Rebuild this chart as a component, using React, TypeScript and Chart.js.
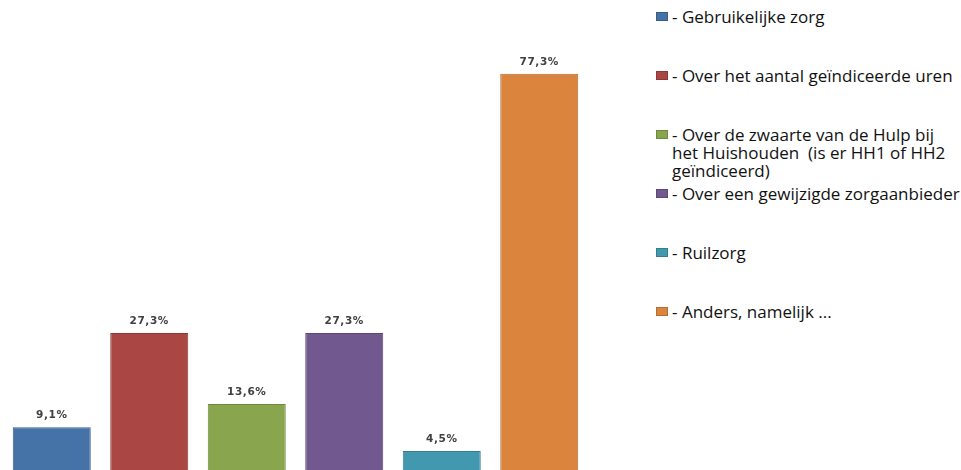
import React, { useEffect, useRef } from "react";
import { Chart, registerables } from "chart.js";

Chart.register(...registerables);

const categories = [
  "- Gebruikelijke zorg",
  "- Over het aantal geïndiceerde uren",
  "- Over de zwaarte van de Hulp bij\nhet Huishouden  (is er HH1 of HH2\ngeïndiceerd)",
  "- Over een gewijzigde zorgaanbieder",
  "- Ruilzorg",
  "- Anders, namelijk ...",
];
const values = [9.1, 27.3, 13.6, 27.3, 4.5, 77.3];
const fillColors = ["#4572A7", "#AA4643", "#89A54E", "#71588F", "#4198AF", "#DB843D"];
const borderColors = ["#385D8A", "#8C3836", "#71893F", "#5C4776", "#357D91", "#B66D31"];

const formatPct = (v: number) => v.toFixed(1).replace(".", ",") + "%";

const valueLabels = {
  id: "valueLabels",
  afterDatasetsDraw(chart: any) {
    const ctx = chart.ctx;
    const meta = chart.getDatasetMeta(0);
    ctx.save();
    ctx.font = "bold 10.5px 'DejaVu Sans'";
    try { (ctx as any).letterSpacing = "0.6px"; } catch (e) {}
    ctx.fillStyle = "#404040";
    ctx.textAlign = "center";
    ctx.textBaseline = "middle";
    meta.data.forEach((el: any, i: number) => {
      ctx.fillText(formatPct(values[i]), el.x, el.y - 11.5);
    });
    ctx.restore();
  },
};

export default function App() {
  const ref = useRef<HTMLCanvasElement>(null);
  useEffect(() => {
    if (!ref.current) return;
    const chart = new Chart(ref.current, {
      type: "bar",
      data: {
        labels: categories,
        datasets: [
          {
            data: values,
            backgroundColor: fillColors,
            borderColor: borderColors,
            borderWidth: 1,
            categoryPercentage: 0.8,
            barPercentage: 1.0,
          },
        ],
      },
      options: {
        responsive: false,
        animation: false,
        layout: { padding: { left: 3, right: 12, top: 8, bottom: 5.6 } },
        plugins: { legend: { display: false }, tooltip: { enabled: false } },
        scales: {
          x: { display: false },
          y: { display: false, min: 0, max: 90 },
        },
      },
      plugins: [valueLabels],
    });
    return () => chart.destroy();
  }, []);

  return (
    <div
      style={{
        position: "fixed",
        left: 0,
        top: 0,
        width: 961,
        height: 470,
        overflow: "hidden",
        background: "#ffffff",
      }}
    >
      <canvas ref={ref} width={600} height={480} style={{ position: "absolute", left: 0, top: 0 }} />
      {categories.map((c, i) => (
        <div key={i}>
          <div
            style={{
              position: "absolute",
              left: 656,
              top: 12 + 59 * i,
              width: 10,
              height: 7,
              background: fillColors[i],
              border: `1px solid ${borderColors[i]}`,
            }}
          />
          <div
            style={{
              position: "absolute",
              left: 672,
              top: 8 + 59 * i,
              fontFamily: "'Open Sans', sans-serif",
              fontSize: 17,
              fontWeight: 500,
              lineHeight: "18px",
              color: "#111111",
              whiteSpace: "pre",
            }}
          >
            {c}
          </div>
        </div>
      ))}
    </div>
  );
}
